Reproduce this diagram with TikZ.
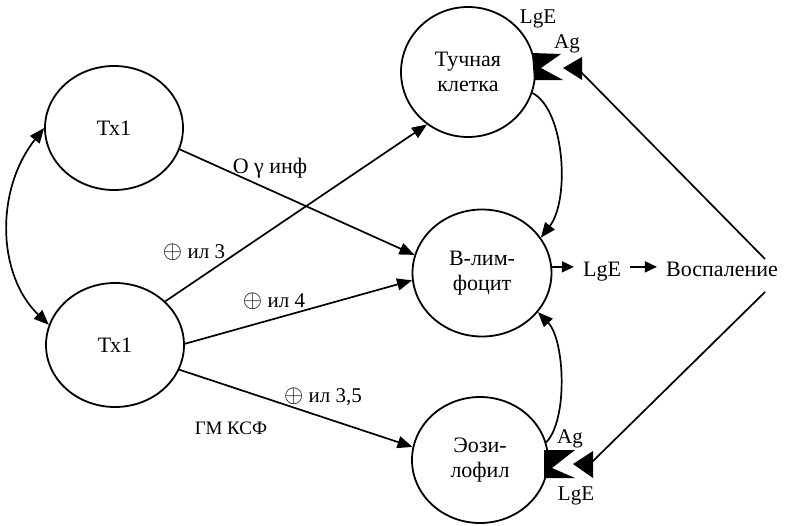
\documentclass[tikz,border=0pt]{standalone}
\usepackage{fontspec}
\setmainfont{Liberation Serif}
\usetikzlibrary{shapes.geometric,arrows.meta}
\newcommand\opl{{\fontsize{25}{25}\selectfont$\oplus$}}
\tikzset{
  cell/.style={ellipse, draw, line width=1.8pt, align=center, inner sep=0pt,
    font=\fontsize{22}{25}\selectfont},
  conn/.style={line width=1.7pt, -{Triangle[length=15pt,width=12pt]}},
  smallarr/.style={line width=1.7pt, -{Triangle[length=12pt,width=11pt]}},
  plain/.style={line width=1.7pt},
  lab/.style={font=\fontsize{21}{24}\selectfont, anchor=base, inner sep=0pt},
}
\begin{document}
\begin{tikzpicture}[x=1pt,y=-1pt]
\useasboundingbox (0,0) rectangle (786,525);
% cells
\node[cell, minimum width=138pt, minimum height=124pt] (ta) at (114,128) {Тх1};
\node[cell, minimum width=138pt, minimum height=124pt] (tb) at (115,345) {Тх1};
\node[cell, minimum width=134pt, minimum height=130pt] (tk) at (468,72) {Тучная\\клетка};
\node[cell, minimum width=139pt, minimum height=127pt] (bl) at (482,273) {В-лим-\\фоцит};
\node[cell, minimum width=136pt, minimum height=126pt] (eo) at (480,460) {Эози-\\лофил};
% labels
\node[lab, font=\fontsize{22}{24}\selectfont] (l1) at (270,173) {О γ инф};
\node[lab] (l2) at (194,258) {\opl\ ил 3};
\node[lab] (l3) at (274,307) {\opl\ ил 4};
\node[lab] (l4) at (323,402) {\opl\ ил 3,5};
\node[lab, font=\fontsize{19}{24}\selectfont] (l5) at (231,434) {ГМ КСФ};
\node[lab] (lgt) at (538,23) {LgE};
\node[lab] (agt) at (567,48) {Ag};
\node[lab] (agb) at (570,443) {Ag};
\node[lab] (lgb) at (576,500) {LgE};
\node[lab, font=\fontsize{22}{24}\selectfont, inner xsep=9pt] (lge) at (602,276) {LgE};
\node[lab, font=\fontsize{22}{24}\selectfont, inner xsep=9pt] (vo) at (722,276) {Воспаление};
% connectors
\draw[line width=1.7pt, {Triangle[length=15pt,width=12pt]}-{Triangle[length=15pt,width=12pt]}]
  (ta.west) .. controls (-5,190) and (-3,275) .. (tb.163);
\draw[conn] (ta.-18) -- (bl.165);
\draw[conn] (tb.41) -- (tk.-128);
\draw[conn] (tb.1) -- (bl.-174);
\draw[conn] (tb.-21) -- (eo.169);
\draw[conn] (tk.-18) .. controls (565,110) and (570,200) .. (bl.31);
\draw[conn] (eo.15) .. controls (568,420) and (565,340) .. (bl.-35);
\draw[smallarr] (bl.5) -- (bl.5 -| lge.west);
\draw[smallarr] (lge.east |- bl.5) -- (vo.west |- bl.5);
% receptors
\fill (532,53) -- (561,54) -- (541,68) -- (563,80) -- (534,80) -- cycle;
\fill (544,450) -- (575,450) -- (552,468) -- (575,478) -- (544,478) -- cycle;
% antigen arrows
\coordinate (vu) at (765,259);
\coordinate (vd) at (765,292);
\coordinate (rt) at (563,68);
\coordinate (rtb) at (580,71);
\coordinate (rb) at (573,464);
\coordinate (rbb) at (591,463);
\draw[plain] (vu) -- (rtb);
\draw[plain] (vd) -- (rbb);
\fill (rt) -- ++(19,-11) -- ++(0,23) -- cycle;
\fill (rb) -- ++(20,-13) -- ++(0,27) -- cycle;
\end{tikzpicture}
\end{document}
